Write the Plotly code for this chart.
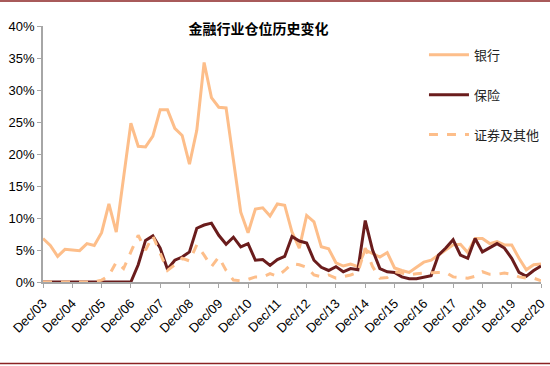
import plotly.graph_objects as go

# Quarterly observations, Dec/03 .. Dec/20 (69 quarters)
months = ["Mar", "Jun", "Sep", "Dec"]
quarters = ["Dec/03"] + [f"{m}/{y:02d}" for y in range(4, 21) for m in months]
tick_labels = [f"Dec/{y:02d}" for y in range(3, 21)]

bank = [6.8, 5.7, 4.0, 5.1, 5.0, 4.9, 6.0, 5.7, 7.7, 12.2, 7.8, 16.3, 24.8, 21.2, 21.1, 22.8,
        26.9, 26.9, 24.0, 22.9, 18.4, 23.7, 34.3, 28.8, 27.3, 27.2, 19.0, 10.9, 7.7, 11.4,
        11.6, 10.3, 12.2, 12.0, 7.8, 5.3, 10.4, 9.4, 5.5, 5.2, 3.0, 2.5, 2.8, 2.4, 5.0,
        4.4, 3.9, 4.6, 2.2, 1.8, 1.5, 2.3, 3.1, 3.4, 4.2, 5.0, 5.8, 5.9, 4.6, 6.8, 6.8,
        6.0, 6.3, 5.8, 5.8, 3.7, 1.9, 2.7, 2.8]
insurance = [0, 0, 0, 0, 0, 0, 0, 0, 0, 0, 0, 0, 0, 2.7, 6.5, 7.2, 5.3, 2.0, 3.4, 3.9,
             4.7, 8.4, 8.9, 9.2, 7.3, 5.9, 7.0, 5.5, 6.0, 3.4, 3.5, 2.6, 3.5, 4.0, 7.1,
             6.4, 6.1, 3.4, 2.3, 1.8, 2.4, 1.6, 2.1, 1.9, 9.6, 5.0, 2.1, 1.6, 1.5, 0.8,
             0.5, 0.5, 0.7, 1.0, 4.2, 5.3, 6.6, 4.2, 3.7, 6.8, 4.7, 5.3, 6.0, 5.3, 3.7,
             1.5, 0.9, 1.8, 2.5]
securities = [0, 0, 0, 0, 0, 0, 0, 0, 0.3, 1.0, 3.1, 2.1, 4.7, 7.3, 5.0, 7.2, 4.5, 1.8,
              2.7, 3.7, 3.3, 5.8, 4.2, 2.4, 3.9, 1.8, 0.3, 0.2, 0.4, 0.8, 0.8, 1.3, 0.9,
              1.8, 2.9, 2.7, 2.3, 1.1, 0.8, 1.1, 0.6, 0.8, 1.1, 1.5, 5.3, 2.4, 0.6, 0.7,
              1.6, 1.4, 1.1, 1.3, 1.4, 1.4, 1.5, 1.5, 0.8, 0.7, 0.6, 0.9, 1.6, 1.2, 1.2,
              1.4, 1.2, 0.8, 0.6, 0.6, 0.2]

names = ["银行", "保险", "证券及其他"]
y_ticks = [0, 0.05, 0.10, 0.15, 0.20, 0.25, 0.30, 0.35, 0.40]

PEACH = "#FDBE8A"
MAROON = "#6A1C1C"
CJK = "Noto Sans CJK SC"

fig = go.Figure()
fig.add_trace(go.Scatter(x=quarters, y=[v / 100 for v in bank], name=names[0], mode="lines",
                         line=dict(color=PEACH, width=3), legendgroup="a"))
fig.add_trace(go.Scatter(x=quarters, y=[v / 100 for v in insurance], name=names[1], mode="lines",
                         line=dict(color=MAROON, width=3), legendgroup="b"))
fig.add_trace(go.Scatter(x=quarters, y=[v / 100 for v in securities], name=names[2], mode="lines",
                         line=dict(color=PEACH, width=3, dash="dash"), legendgroup="c"))

fig.update_layout(
    width=550, height=366,
    margin=dict(l=43, r=9, t=26, b=84, autoexpand=False),
    paper_bgcolor="white", plot_bgcolor="white",
    font=dict(family="Liberation Sans, Arial", size=13, color="black"),
    title=dict(text="<b>金融行业仓位历史变化</b>", x=0.47, xanchor="center", y=0.92, yanchor="middle",
               font=dict(family=CJK, size=14, color="black")),
    legend=dict(x=0.765, xanchor="left", y=0.946, yanchor="top", tracegroupgap=20,
                font=dict(family=CJK, size=13, color="#222"), bgcolor="rgba(0,0,0,0)",
                itemwidth=40),
    showlegend=True,
)
fig.update_xaxes(type="category", range=[0, len(quarters) - 1], tickmode="array",
                 tickvals=tick_labels, ticktext=tick_labels, tickangle=-45,
                 showline=True, linecolor="#A6A6A6", linewidth=1.5, ticks="outside",
                 ticklen=4, tickcolor="#A6A6A6", showgrid=False, zeroline=False,
                 tickfont=dict(size=13), automargin=False, ticklabelstandoff=3)
fig.update_yaxes(range=[0, 0.40], tickvals=y_ticks, tickformat=".0%", showline=True,
                 linecolor="#A6A6A6", linewidth=1.5, ticks="outside", ticklen=4,
                 tickcolor="#A6A6A6", showgrid=False, zeroline=False, tickfont=dict(size=13),
                 automargin=False)

# decorative page rules (top and bottom)
fig.add_shape(type="line", xref="paper", yref="paper", x0=-0.09, x1=1.02, y0=1.098, y1=1.098,
              line=dict(color="#8B2323", width=1.5))
fig.add_shape(type="line", xref="paper", yref="paper", x0=-0.09, x1=1.02, y0=-0.318, y1=-0.318,
              line=dict(color="#8B2323", width=1.5))

fig.write_html("out.html", config={"displayModeBar": False},
               post_script="document.body.style.margin='0';")
